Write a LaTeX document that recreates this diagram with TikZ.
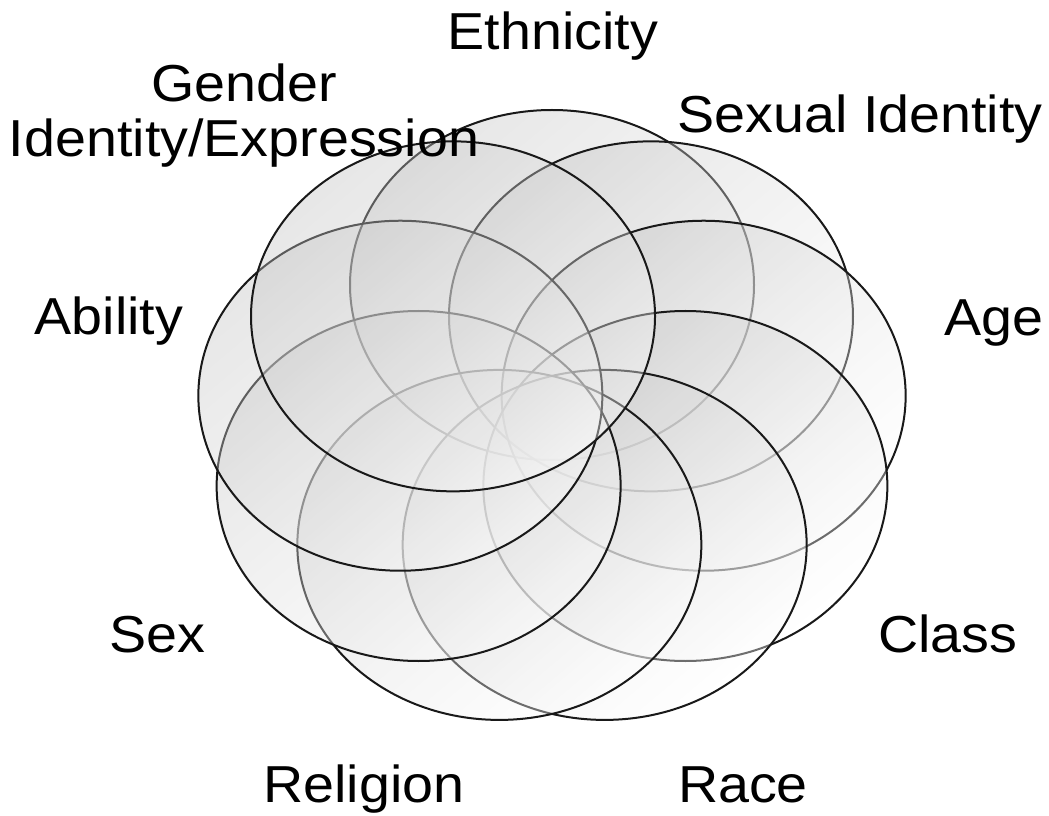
\documentclass[tikz,border=0pt]{standalone}
\usepackage{fontspec}
\usetikzlibrary{shapes.geometric}
\newfontfamily\labelfont{Liberation Sans}[FakeStretch=1.07]
\tikzset{
  ring/.style={
    ellipse,
    draw=black!90,
    line width=2pt,
    minimum width=404pt,
    minimum height=350pt,
    inner sep=0pt,
    top color=gray!50,
    middle color=gray!4,
    bottom color=white,
    shading angle=40,
    fill opacity=0.38
  },
  tag/.style={
    anchor=base,
    inner sep=0pt,
    align=center,
    font={\labelfont\fontsize{52}{55}\selectfont}
  }
}

\begin{document}
\begin{tikzpicture}[x=1pt,y=1pt]
  \useasboundingbox (0,0) rectangle (1049,815);

  % nine overlapping identity ellipses, clockwise from the top
  \begin{scope}[shift={(552,396)}]
    \foreach \ang/\nm in {90/eth, 50/sexid, 10/age, -30/class, -70/race,
                          -110/rel, -150/sex, 170/abil, 130/gender}
      \node[ring] (\nm) at (\ang:154 and 134) {};
  \end{scope}

  \node[tag] (l-eth)    at (553,765) {Ethnicity};
  \node[tag] (l-gender) at (244,658) {Gender\\Identity/Expression};
  \node[tag] (l-sexid)  at (860,682) {Sexual Identity};
  \node[tag] (l-age)    at (994,479) {Age};
  \node[tag] (l-abil)   at (109,480) {Ability};
  \node[tag] (l-sex)    at (157,163) {Sex};
  \node[tag] (l-class)  at (948,163) {Class};
  \node[tag] (l-rel)    at (364,13)  {Religion};
  \node[tag] (l-race)   at (743,13)  {Race};
\end{tikzpicture}
\end{document}
